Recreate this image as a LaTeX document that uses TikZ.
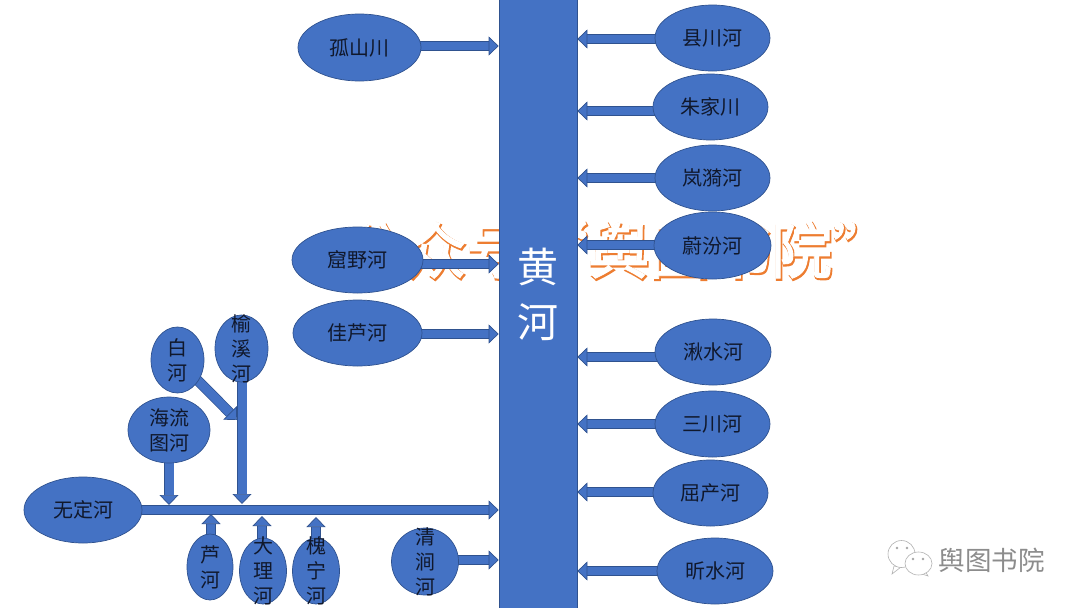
\documentclass[tikz,border=0pt]{standalone}
\usepackage{fontspec}
\setmainfont{Noto Sans CJK SC}
\newfontfamily\wmfont[FakeBold=4]{Noto Sans CJK SC}
\newfontfamily\wmfontb[FakeBold=1.5]{Noto Sans CJK SC}
\usetikzlibrary{arrows.meta,shapes.geometric}
\definecolor{blu}{HTML}{4472C4}
\definecolor{edgeb}{HTML}{2F528F}
\definecolor{orng}{HTML}{ED7D31}
\definecolor{txt}{HTML}{10182C}
\pgfdeclarelayer{bg}
\pgfsetlayers{bg,main}
\newcommand\vtxt[1]{\smash{\raisebox{-8pt}{\begin{tabular}[c]{@{}c@{}}#1\end{tabular}}}}
\newcommand\wmtext{公众号“舆图书院”}
\tikzset{
  river/.style={ellipse,draw=edgeb,line width=.7pt,fill=blu,inner sep=0pt,outer sep=0pt,
    text=txt,font=\fontsize{20}{25}\selectfont},
  flow/.style={draw=edgeb,line width=.7pt,double=blu,double distance=#1,
    -{Triangle[width=19pt,length=10pt,fill=blu,color=edgeb]}},
  flow/.default=8pt,
  wm/.style={anchor=west,inner sep=0pt},
  logo/.style={draw=black!30,line width=.6pt,fill=white},
}
\begin{document}
\begin{tikzpicture}[x=1pt,y=-1pt]
\useasboundingbox (0,0) rectangle (1080,608);
\node[rectangle,draw=edgeb,line width=.7pt,fill=blu,minimum width=78pt,minimum height=609pt,inner sep=0pt,text=white,
  font=\fontsize{41}{55}\selectfont] (hh) at (538,304) {\smash{\raisebox{-1pt}{\begin{tabular}[c]{@{}c@{}}黄\\河\end{tabular}}}};
% left rivers
\node[river,minimum width=123pt,minimum height=67pt] (gs) at (359.5,47.5) {孤山川};
\node[river,minimum width=131pt,minimum height=66pt] (ky) at (357.5,260) {窟野河};
\node[river,minimum width=129pt,minimum height=66pt] (jl) at (357.5,333) {佳芦河};
% right rivers
\node[river,minimum width=115pt,minimum height=66pt] (xc) at (712.5,38) {县川河};
\node[river,minimum width=115pt,minimum height=66pt] (zj) at (710.5,107) {朱家川};
\node[river,minimum width=115pt,minimum height=66pt] (ly) at (712.5,178) {岚漪河};
\node[river,minimum width=117pt,minimum height=67pt] (wf) at (712.5,245.5) {蔚汾河};
\node[river,minimum width=116pt,minimum height=66pt] (qs) at (713,352) {湫水河};
\node[river,minimum width=115pt,minimum height=66pt] (sc) at (712.5,424) {三川河};
\node[river,minimum width=115pt,minimum height=66pt] (qc) at (710.5,493) {屈产河};
\node[river,minimum width=116pt,minimum height=66pt] (xs) at (715,571) {昕水河};
% Wuding system
\node[river,minimum width=118pt,minimum height=66pt] (wd) at (83,510) {无定河};
\node[river,minimum width=82pt,minimum height=66pt] (hl) at (169,430) {\vtxt{海流\\图河}};
\node[river,minimum width=53pt,minimum height=66pt] (bh) at (177.5,360) {\vtxt{白\\河}};
\node[river,minimum width=53pt,minimum height=67pt] (yx) at (241.5,348.5) {\vtxt{榆\\溪\\河}};
\node[river,minimum width=46pt,minimum height=66pt] (lh) at (210,567) {\vtxt{芦\\河}};
\node[river,minimum width=47pt,minimum height=66pt] (dl) at (263,571) {\vtxt{大\\理\\河}};
\node[river,minimum width=47pt,minimum height=66pt] (hn) at (316,571) {\vtxt{槐\\宁\\河}};
\node[river,minimum width=67pt,minimum height=67pt] (qj) at (425,561.5) {\vtxt{清\\涧\\河}};
\begin{pgfonlayer}{bg}
  \node[wm,text=orng,font=\wmfont\fontsize{61}{61}\selectfont] (wma) at (345,251.5) {\wmtext};
  \node[wm,text=white,font=\wmfontb\fontsize{61}{61}\selectfont] (wmb) at (344,250) {\wmtext};
  % left arrows
  \draw[flow] (gs.center |- 0,46) -- (hh.west |- 0,46);
  \draw[flow] (ky.center |- 0,264) -- (hh.west |- 0,264);
  \draw[flow] (jl.center |- 0,334) -- (hh.west |- 0,334);
  \draw[flow] (qj.center |- 0,560) -- (hh.west |- 0,560);
  \draw[flow=8.5pt] (wd.center) -- (hh.west |- wd.center);
  % right arrows
  \draw[flow] (xc.center |- 0,39) -- (hh.east |- 0,39);
  \draw[flow] (zj.center |- 0,111) -- (hh.east |- 0,111);
  \draw[flow] (ly.center |- 0,178) -- (hh.east |- 0,178);
  \draw[flow] (wf.center |- 0,245) -- (hh.east |- 0,245);
  \draw[flow] (qs.center |- 0,357) -- (hh.east |- 0,357);
  \draw[flow] (sc.center |- 0,424) -- (hh.east |- 0,424);
  \draw[flow] (qc.center |- 0,492) -- (hh.east |- 0,492);
  \draw[flow] (xs.center |- 0,571) -- (hh.east |- 0,571);
  % tributaries
  \coordinate (bhend) at (237,420);
  \draw[flow=9pt] (bh.center) -- (bhend);
  \coordinate (yxend) at (242,504);
  \draw[flow=9pt] (yx.center -| yxend) -- (yxend);
  \coordinate (hlend) at (169,505);
  \draw[flow=9pt] (hl.center) -- (hlend);
  \coordinate (lhend) at (211,514);
  \draw[flow] (lh.center -| lhend) -- (lhend);
  \coordinate (dlend) at (262,516);
  \draw[flow] (dl.center -| dlend) -- (dlend);
  \coordinate (hnend) at (316,517);
  \draw[flow] (hn.center -| hnend) -- (hnend);
\end{pgfonlayer}
% logo
\draw[logo] (894,566) -- (892,574) -- (901,567) -- cycle;
\draw[logo] (901.5,554) ellipse [x radius=13.5pt,y radius=13.5pt];
\draw[logo] (925,571) -- (928,576) -- (919,573) -- cycle;
\draw[logo] (918.5,563.5) ellipse [x radius=13.5pt,y radius=11.5pt];
\foreach \p in {(897,548),(907,548),(913,559),(923,559)}
  \fill[black!35] \p circle (1.4pt);
\node[anchor=center,inner sep=0pt,text=black!45,font=\fontsize{26.5}{27}\selectfont] (logotext) at (991.5,560) {舆图书院};
\end{tikzpicture}
\end{document}
